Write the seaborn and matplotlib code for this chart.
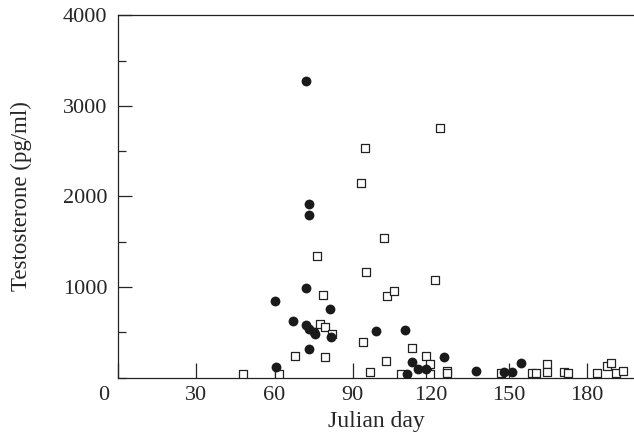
import numpy as np
import pandas as pd
import seaborn as sns
import matplotlib
matplotlib.use("Agg")
import matplotlib.pyplot as plt
import matplotlib.transforms as mtransforms
from matplotlib.ticker import MultipleLocator

# filled circles
circle_day = [60.3, 60.4, 67.0, 72.1, 72.1, 72.1, 73.1, 73.1, 73.1, 73.4, 75.3, 75.6, 81.3,
              81.6, 99.1, 110.0, 111.0, 112.9, 115.0, 118.0, 125.0, 137.4, 148.1, 151.1, 154.6]
circle_t = [843, 115, 626, 3279, 987, 582, 1914, 1796, 317, 534, 508, 479, 755,
            446, 516, 527, 41, 173, 100, 92, 228, 74, 66, 66, 159]

# open squares
square_day = [48.0, 61.8, 67.9, 76.4, 77.5, 78.5, 79.4, 79.4, 82.2, 93.3, 94.0, 94.9, 95.1,
              96.8, 102.0, 102.8, 103.1, 105.9, 108.7, 112.8, 118.0, 119.8, 119.8, 121.6,
              123.7, 126.1, 126.1, 146.8, 158.7, 160.3, 164.6, 164.6, 171.3, 172.8, 184.0,
              187.8, 189.1, 191.1, 193.7]
square_t = [41, 41, 240, 1343, 593, 910, 556, 232, 479, 2153, 398, 2539, 1167,
            66, 1539, 188, 905, 961, 41, 324, 240, 148, 41, 1079,
            2757, 74, 50, 55, 55, 55, 148, 63, 66, 55, 55,
            133, 166, 55, 74]

x_ticks = [0, 30, 60, 90, 120, 150, 180]
y_ticks = [1000, 2000, 3000, 4000]

sns.set_style("ticks")
plt.rcParams['font.family'] = ['Liberation Serif', 'DejaVu Serif']

df_c = pd.DataFrame({"day": circle_day, "t": circle_t})
df_s = pd.DataFrame({"day": square_day, "t": square_t})

fig = plt.figure(figsize=(6.34, 4.38), dpi=100)
ax = fig.add_axes([0.1866, 0.1377, 0.8133, 0.8274])

sns.scatterplot(data=df_s, x="day", y="t", marker="s", s=30, facecolor="white",
                edgecolor="#222222", linewidth=0.9, ax=ax, zorder=3)
sns.scatterplot(data=df_c, x="day", y="t", marker="o", s=50, color="#1a1a1a",
                edgecolor="#1a1a1a", linewidth=0, ax=ax, zorder=4)

ax.set_xlim(0, 198)
ax.set_ylim(0, 4000)
ax.set_xticks(x_ticks)
ax.set_yticks(y_ticks)
ax.yaxis.set_minor_locator(MultipleLocator(500))
ax.tick_params(axis="x", direction="in", length=11, width=0.9, labelsize=16, pad=6)
ax.tick_params(axis="y", which="major", direction="in", length=10, width=0.9, labelsize=16, pad=8)
ax.tick_params(axis="y", which="minor", direction="in", length=5.5, width=0.9)

# origin label sits a little left of the axis
fig.canvas.draw()
zero_lab = ax.get_xticklabels()[0]
zero_lab.set_transform(zero_lab.get_transform() +
                       mtransforms.ScaledTranslation(-15 / 100, 0, fig.dpi_scale_trans))

ax.spines["right"].set_visible(False)
for s in ["left", "bottom", "top"]:
    ax.spines[s].set_linewidth(0.9)
    ax.spines[s].set_color("#222222")

ax.set_xlabel("Julian day", fontsize=17)
ax.set_ylabel("Testosterone (pg/ml)", fontsize=16.5)
ax.xaxis.set_label_coords(0.5, -0.093)
ax.yaxis.set_label_coords(-0.167, 0.5)

fig.savefig("out.png", dpi=100)
